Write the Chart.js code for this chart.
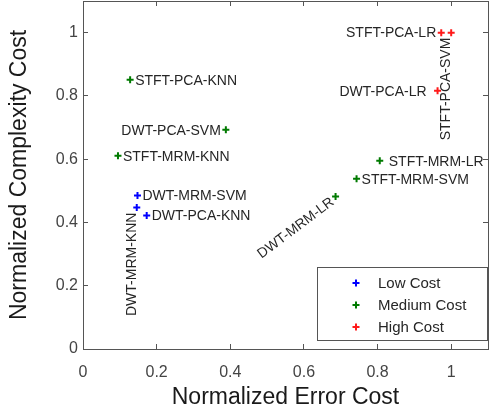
<!DOCTYPE html>
<html lang="en">
<head>
    <meta charset="UTF-8">
    <title>Normalized Error vs Complexity Cost</title>
    <script src="https://cdn.jsdelivr.net/npm/chart.js"></script>
    <style>
        body { margin: 0; background: #fff; }
        #wrap { width: 492px; height: 417px; }
    </style>
</head>
<body>
    <div id="wrap"><canvas id="costChart"></canvas></div>

    <script>
        // one entry per method
        let names = ['STFT-PCA-KNN', 'DWT-PCA-SVM', 'STFT-MRM-KNN', 'DWT-MRM-SVM', 'DWT-MRM-KNN', 'DWT-PCA-KNN',
                     'DWT-MRM-LR', 'STFT-MRM-SVM', 'STFT-MRM-LR', 'DWT-PCA-LR', 'STFT-PCA-LR', 'STFT-PCA-SVM'];
        let errorCost = [0.128, 0.388, 0.095, 0.148, 0.146, 0.173, 0.686, 0.743, 0.806, 0.963, 0.973, 1.0];
        let complexityCost = [0.851, 0.693, 0.611, 0.485, 0.447, 0.422, 0.482, 0.538, 0.595, 0.816, 1.0, 1.0];
        let costClass = ['Medium', 'Medium', 'Medium', 'Low', 'Low', 'Low',
                         'Medium', 'Medium', 'Medium', 'High', 'High', 'High'];

        let classes = ['Low', 'Medium', 'High'];
        let classLabels = ['Low Cost', 'Medium Cost', 'High Cost'];
        let classColors = ['#0000ff', '#007a00', '#ff1a1a'];

        let xTicks = [0, 0.2, 0.4, 0.6, 0.8, 1];
        let xTickLabels = ['0', '0.2', '0.4', '0.6', '0.8', '1'];
        let yTicks = [0, 0.2, 0.4, 0.6, 0.8, 1];
        let yTickLabels = ['0', '0.2', '0.4', '0.6', '0.8', '1'];

        // where each name goes relative to its marker
        let labelSide = ['right', 'left', 'right', 'right', 'up', 'right',
                         'diag', 'right', 'right', 'left', 'left', 'up'];

        let datasets = classes.map(function(c, ci) {
            let idx = [];
            costClass.forEach(function(k, i) { if (k === c) idx.push(i); });
            return {
                label: classLabels[ci],
                data: idx.map(function(i) { return { x: errorCost[i], y: complexityCost[i] }; }),
                idx: idx,
                pointStyle: 'cross',
                pointRadius: 3.5,
                pointBorderWidth: 2,
                borderColor: classColors[ci],
                backgroundColor: classColors[ci],
                showLine: false
            };
        });

        const labelFont = '14px "Liberation Sans", Arial, sans-serif';

        const pointLabels = {
            id: 'pointLabels',
            afterDatasetsDraw(chart) {
                let ctx = chart.ctx;
                ctx.save();
                ctx.font = labelFont;
                ctx.fillStyle = '#262626';
                chart.data.datasets.forEach(function(ds, di) {
                    chart.getDatasetMeta(di).data.forEach(function(pt, j) {
                        let i = ds.idx[j];
                        let side = labelSide[i];
                        let txt = names[i];
                        ctx.save();
                        if (side === 'right') {
                            ctx.textAlign = 'left';
                            ctx.textBaseline = 'middle';
                            ctx.fillText(txt, pt.x + (txt === 'STFT-MRM-LR' ? 9 : 5), pt.y + 1);
                        } else if (side === 'left') {
                            ctx.textAlign = 'right';
                            ctx.textBaseline = 'middle';
                            ctx.fillText(txt, pt.x - (txt === 'DWT-PCA-LR' ? 11 : 5), pt.y + 1);
                        } else if (side === 'up') {
                            ctx.translate(pt.x - 5, pt.y + 5);
                            ctx.rotate(-Math.PI / 2);
                            ctx.textAlign = 'right';
                            ctx.textBaseline = 'middle';
                            ctx.fillText(txt, 0, 0);
                        } else {
                            ctx.translate(pt.x - 3, pt.y + 4);
                            ctx.rotate(-37 * Math.PI / 180);
                            ctx.textAlign = 'right';
                            ctx.textBaseline = 'middle';
                            ctx.fillText(txt, 0, 0);
                        }
                        ctx.restore();
                    });
                });
                ctx.restore();
            }
        };

        const insideLegend = {
            id: 'insideLegend',
            afterDraw(chart) {
                let ctx = chart.ctx;
                let a = chart.chartArea;
                let x0 = a.right - 171, y0 = a.bottom - 82, w = 170, h = 73;
                ctx.save();
                ctx.fillStyle = '#fff';
                ctx.fillRect(x0, y0, w, h);
                ctx.strokeStyle = '#555';
                ctx.lineWidth = 1;
                ctx.strokeRect(x0 + 0.5, y0 + 0.5, w, h);
                ctx.font = '15px "Liberation Sans", Arial, sans-serif';
                ctx.textBaseline = 'middle';
                ctx.textAlign = 'left';
                chart.data.datasets.forEach(function(ds, i) {
                    let cy = y0 + 16 + i * 22;
                    ctx.strokeStyle = ds.borderColor;
                    ctx.lineWidth = 2;
                    Chart.helpers.drawPoint(ctx, { pointStyle: 'cross', radius: 3.5, borderWidth: 2, rotation: 0 }, x0 + 39, cy);
                    ctx.fillStyle = '#262626';
                    ctx.fillText(ds.label, x0 + 61, cy + 1);
                });
                ctx.restore();
            }
        };

        const tickFont = { family: '"Liberation Sans", Arial', size: 16 };
        const titleFont = { family: '"Liberation Sans", Arial', size: 23 };

        function boxAxis(position, extra) {
            let ax = {
                type: 'linear',
                position: position,
                min: 0,
                max: 1.1,
                grid: { drawOnChartArea: false, drawTicks: true, tickLength: -5, color: '#555' },
                border: { display: true, color: '#555', width: 1 },
                ticks: { display: false }
            };
            return Object.assign(ax, extra);
        }

        function noPad(s) {
            s.paddingTop = 0; s.paddingBottom = 0; s.paddingLeft = 0; s.paddingRight = 0;
        }

        let ctx = document.getElementById('costChart').getContext('2d');
        let chart = new Chart(ctx, {
            type: 'scatter',
            data: { datasets: datasets },
            plugins: [pointLabels, insideLegend],
            options: {
                responsive: true,
                maintainAspectRatio: false,
                animation: false,
                layout: { autoPadding: false, padding: { top: 1, right: 4, left: 0, bottom: 0 } },
                plugins: { legend: { display: false }, tooltip: { enabled: false } },
                scales: {
                    x: boxAxis('bottom', {
                        afterBuildTicks: function(s) { s.ticks = xTicks.map(function(v) { return { value: v }; }); },
                        afterFit: function(s) { s.height = 68; noPad(s); },
                        ticks: { display: true, padding: 19, color: '#444', font: tickFont, maxRotation: 0,
                                 callback: function(v, i) { return xTickLabels[i]; } },
                        title: { display: true, text: 'Normalized Error Cost', color: '#1a1a1a', font: titleFont, padding: { top: 0, bottom: 6 } }
                    }),
                    y: boxAxis('left', {
                        afterBuildTicks: function(s) { s.ticks = yTicks.map(function(v) { return { value: v }; }); },
                        afterFit: function(s) { s.width = 83; noPad(s); },
                        ticks: { display: true, padding: 10, color: '#444', font: tickFont,
                                 callback: function(v, i) { return yTickLabels[i]; } },
                        title: { display: true, text: 'Normalized Complexity Cost', color: '#1a1a1a', font: titleFont, padding: { top: 6, bottom: 0 } }
                    }),
                    x2: boxAxis('top', {
                        afterBuildTicks: function(s) { s.ticks = xTicks.map(function(v) { return { value: v }; }); },
                        afterFit: function(s) { s.height = 0; noPad(s); }
                    }),
                    y2: boxAxis('right', {
                        afterBuildTicks: function(s) { s.ticks = yTicks.map(function(v) { return { value: v }; }); },
                        afterFit: function(s) { s.width = 0; noPad(s); }
                    })
                }
            }
        });
    </script>
</body>
</html>
